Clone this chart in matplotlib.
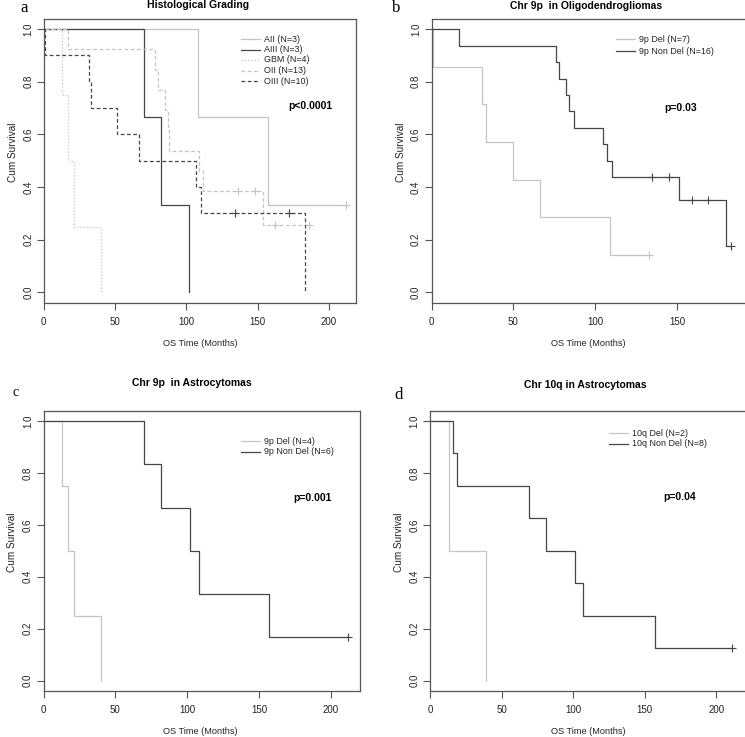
import numpy as np
import matplotlib.pyplot as plt
from matplotlib.lines import Line2D

plt.rcParams['font.family'] = ['Liberation Sans', 'DejaVu Sans']

W, H = 745, 737
LIGHT = '#c4c4c4'
DARK = '#454545'
AXC = '#555555'

# === DATA (months, status 1 = death, 0 = censored) ===
# a: histological grading
aii_t = [108, 157, 212]
aii_s = [1, 1, 0]
aiii_t = [70, 82, 102]
aiii_s = [1, 1, 1]
gbm_t = [13, 17, 21, 40]
gbm_s = [1, 1, 1, 1]
oii_t = [17, 78, 80, 85, 87, 88, 109, 112, 136, 148, 154, 162, 186]
oii_s = [1, 1, 1, 1, 1, 1, 1, 1, 0, 0, 1, 0, 0]
oiii_t = [1, 32, 33, 51, 67, 107, 110, 134, 172, 183]
oiii_s = [1, 1, 1, 1, 1, 1, 1, 0, 0, 1]

# b: chr 9p in oligodendrogliomas
b_del_t = [1, 31, 33, 50, 66, 109, 133]
b_del_s = [1, 1, 1, 1, 1, 1, 0]
b_non_t = [17, 76, 78, 82, 84, 87, 105, 107, 110, 135, 145, 151, 159, 169, 180, 183]
b_non_s = [1, 1, 1, 1, 1, 1, 1, 1, 1, 0, 0, 1, 0, 0, 1, 0]

# c: chr 9p in astrocytomas
c_del_t = [13, 17, 21, 40]
c_del_s = [1, 1, 1, 1]
c_non_t = [70, 82, 102, 108, 157, 212]
c_non_s = [1, 1, 1, 1, 1, 0]

# d: chr 10q in astrocytomas
d_del_t = [13, 39]
d_del_s = [1, 1]
d_non_t = [16, 19, 69, 81, 101, 107, 157, 211]
d_non_s = [1, 1, 1, 1, 1, 1, 1, 0]

x_ticks = [0, 50, 100, 150, 200]
x_ticks_b = [0, 50, 100, 150]
y_ticks = [0.0, 0.2, 0.4, 0.6, 0.8, 1.0]


def km(times, status):
    t = np.array(times, float)
    s = np.array(status)
    at_risk = len(t)
    xs, ys, cens = [0.0], [1.0], []
    surv = 1.0
    for ti in np.unique(t):
        d = np.sum((t == ti) & (s == 1))
        c = np.sum((t == ti) & (s == 0))
        if d:
            surv *= 1 - d / at_risk
            xs.append(ti)
            ys.append(surv)
        if c:
            cens.append((ti, surv))
        at_risk -= d + c
    if xs[-1] < t.max():
        xs.append(t.max())
        ys.append(surv)
    return xs, ys, cens


def fx(x):
    return x / W


def fy(y):
    return 1 - y / H


fig = plt.figure(figsize=(W / 100, H / 100), dpi=100)


def make_ax(left, right, top, bottom, xmax, xt):
    ax = fig.add_axes([fx(left), fy(bottom), fx(right - left), (bottom - top) / H])
    ax.set_xlim(0, xmax)
    ax.set_ylim(-0.04, 1.04)
    ax.set_xticks(xt)
    ax.set_yticks(y_ticks)
    ax.set_yticklabels([f"{v:.1f}" for v in y_ticks], rotation=90, va='center')
    ax.tick_params(length=5, width=0.8, color=AXC, labelsize=7, labelcolor='#222222')
    ax.tick_params(axis='x', pad=5)
    ax.tick_params(axis='y', pad=2.5)
    for sp in ax.spines.values():
        sp.set_color(AXC)
        sp.set_linewidth(0.9)
    return ax


def curve(ax, t, s, color, dashes=None):
    xs, ys, cens = km(t, s)
    line, = ax.step(xs, ys, where='post', color=color, lw=0.9)
    if dashes:
        line.set_dashes(dashes)
    for cx, cy in cens:
        ax.plot(cx, cy, marker='+', color=color, ms=6, mew=0.8)


def legend(x0, y0, entries, dy=10.5):
    for i, (label, color, dashes) in enumerate(entries):
        y = y0 + i * dy
        ln = Line2D([fx(x0 - 23), fx(x0 - 4)], [fy(y), fy(y)], color=color, lw=0.9,
                    transform=fig.transFigure)
        if dashes:
            ln.set_dashes(dashes)
        fig.add_artist(ln)
        fig.text(fx(x0), fy(y), label, fontsize=6.4, va='center', ha='left', color='#222222')


def labels(ax_left, ax_bottom, ax_top, ax_cx):
    fig.text(fx(ax_cx), fy(ax_bottom + 41), 'OS Time (Months)', fontsize=6.6,
             ha='center', va='center', color='#222222')
    fig.text(fx(ax_left - 31), fy(ax_top + (ax_bottom - ax_top) * 0.47), 'Cum Survival',
             fontsize=7.2, rotation=90, ha='center', va='center', color='#222222')


DOT = (1, 1.6)
DASH = (3, 2)

# === PANEL A ===
ax = make_ax(43.8, 356, 18.6, 303, 219, x_ticks)
curve(ax, aii_t, aii_s, LIGHT)
curve(ax, aiii_t, aiii_s, DARK)
curve(ax, gbm_t, gbm_s, LIGHT, DOT)
curve(ax, oii_t, oii_s, LIGHT, DASH)
curve(ax, oiii_t, oiii_s, DARK, DASH)
labels(43.8, 303, 18.6, 200)
legend(264, 39, [('AII (N=3)', LIGHT, None), ('AIII (N=3)', DARK, None),
                 ('GBM (N=4)', LIGHT, DOT), ('OII (N=13)', LIGHT, DASH),
                 ('OIII (N=10)', DARK, DASH)])
fig.text(fx(310), fy(106), 'p<0.0001', fontsize=7.5, weight='bold', ha='center', va='center')
fig.text(fx(198), fy(5.5), 'Histological Grading', fontsize=7.5, weight='bold',
         ha='center', va='center')
fig.text(fx(24), fy(8), 'a', fontsize=12, family='Liberation Serif', ha='center', va='center')

# === PANEL B ===
ax = make_ax(431.5, 746.5, 18.6, 303, 192.5, x_ticks_b)
curve(ax, b_del_t, b_del_s, LIGHT)
curve(ax, b_non_t, b_non_s, DARK)
labels(431.5, 303, 18.6, 588)
legend(639, 39, [('9p Del (N=7)', LIGHT, None), ('9p Non Del (N=16)', DARK, None)], dy=12)
fig.text(fx(681), fy(108), 'p=0.03', fontsize=7.5, weight='bold', ha='center', va='center')
fig.text(fx(586), fy(6), 'Chr 9p  in Oligodendrogliomas', fontsize=7.5, weight='bold',
         ha='center', va='center')
fig.text(fx(396), fy(8), 'b', fontsize=12, family='Liberation Serif', ha='center', va='center')

# === PANEL C ===
ax = make_ax(43.5, 359.6, 410.6, 691, 220, x_ticks)
curve(ax, c_del_t, c_del_s, LIGHT)
curve(ax, c_non_t, c_non_s, DARK)
labels(43.5, 691, 410.6, 200)
legend(264, 441, [('9p Del (N=4)', LIGHT, None), ('9p Non Del (N=6)', DARK, None)])
fig.text(fx(312), fy(498), 'p=0.001', fontsize=7.5, weight='bold', ha='center', va='center')
fig.text(fx(192), fy(383.5), 'Chr 9p  in Astrocytomas', fontsize=7.5, weight='bold',
         ha='center', va='center')
fig.text(fx(16), fy(392), 'c', fontsize=10, family='Liberation Serif', ha='center', va='center')

# === PANEL D ===
ax = make_ax(430, 746.5, 410.6, 691, 221, x_ticks)
curve(ax, d_del_t, d_del_s, LIGHT)
curve(ax, d_non_t, d_non_s, DARK)
labels(430, 691, 410.6, 588)
legend(632, 433, [('10q Del (N=2)', LIGHT, None), ('10q Non Del (N=8)', DARK, None)], dy=11)
fig.text(fx(680), fy(497), 'p=0.04', fontsize=7.5, weight='bold', ha='center', va='center')
fig.text(fx(585), fy(385), 'Chr 10q in Astrocytomas', fontsize=7.5, weight='bold',
         ha='center', va='center')
fig.text(fx(399), fy(395), 'd', fontsize=12, family='Liberation Serif', ha='center', va='center')

fig.savefig('out.png', dpi=100)
